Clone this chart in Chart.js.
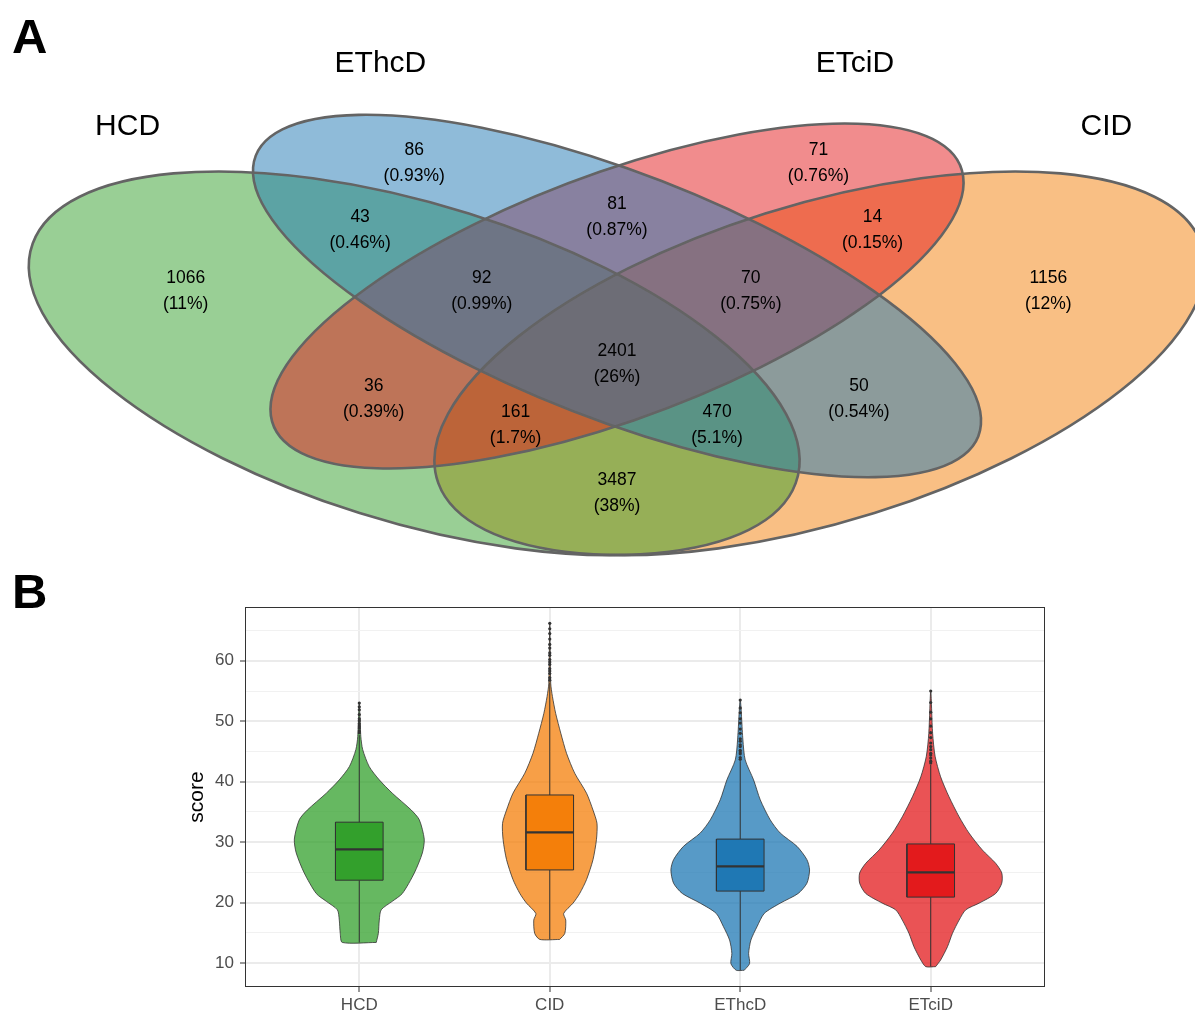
<!DOCTYPE html>
<html>
<head>
<meta charset="utf-8">
<title>Venn and score violins</title>
<script src="https://cdn.jsdelivr.net/npm/chart.js@4.4.0/dist/chart.umd.min.js"></script>
<style>
html, body { margin: 0; padding: 0; background: #fff; }
#page { position: relative; width: 1195px; height: 1012px; overflow: hidden; background: #fff;
        font-family: "Liberation Sans", Arial, sans-serif; }
.panel { position: absolute; left: 12px; font-weight: bold; font-size: 49px; line-height: 1; color: #000; }
#vennChart { position: absolute; left: 0; top: 0; }
#violinChart { position: absolute; left: 0; top: 575px; }
</style>
</head>
<body>
<div id="page">
  <canvas id="vennChart" width="1195" height="570"></canvas>
  <canvas id="violinChart" width="1195" height="437"></canvas>
  <div class="panel" style="top:12px">A</div>
  <div class="panel" style="top:567px">B</div>
</div>
<script>
// ==========================================================
// Data : Venn (panel A)
// ==========================================================

const vennSets = ["HCD", "EThcD", "ETciD", "CID"];

const vennRegions = [
    "HCD", "EThcD", "ETciD", "CID",
    "HCD+EThcD", "EThcD+ETciD", "ETciD+CID",
    "HCD+EThcD+ETciD", "EThcD+ETciD+CID", "all",
    "HCD+ETciD", "HCD+ETciD+CID", "HCD+EThcD+CID", "EThcD+CID",
    "HCD+CID"
];

const vennCounts = [1066, 86, 71, 1156, 43, 81, 14, 92, 70, 2401, 36, 161, 470, 50, 3487];

const vennShares = ["11%", "0.93%", "0.76%", "12%", "0.46%", "0.87%", "0.15%", "0.99%",
                    "0.75%", "26%", "0.39%", "1.7%", "5.1%", "0.54%", "38%"];

// ==========================================================
// Data : score violins (panel B)
// ==========================================================

const scoreCats = ["HCD", "CID", "EThcD", "ETciD"];

const yTickValues = [10, 15, 20, 25, 30, 35, 40, 45, 50, 55, 60, 65];

// violin outlines: score level and half width (in category units)
const hcdLevels = [13.4, 14.9, 17.1, 18.8, 20.2, 21.5, 24.9, 28.2, 30.5, 33.7, 35.3, 38.1, 40.3, 42.5, 45.3, 47.5, 53.0];
const hcdWidths = [0.089, 0.100, 0.105, 0.115, 0.173, 0.226, 0.289, 0.331, 0.341, 0.315, 0.273, 0.173, 0.105, 0.052, 0.018, 0.008, 0];

const cidLevels = [13.9, 14.9, 17.1, 18.2, 19.9, 21.5, 23.8, 27.1, 30.4, 33.1, 35.3, 38.1, 41.4, 44.7, 48.0, 51.3, 54.1, 56.3, 66.2];
const cidWidths = [0.052, 0.079, 0.084, 0.073, 0.122, 0.157, 0.193, 0.227, 0.245, 0.248, 0.227, 0.193, 0.131, 0.088, 0.058, 0.031, 0.014, 0.005, 0];

const ethcdLevels = [8.8, 9.9, 11.6, 13.8, 16.0, 18.2, 19.9, 21.5, 23.2, 25.4, 27.1, 29.3, 31.5, 33.7, 37.0, 40.3, 43.6, 46.9, 53.5];
const ethcdWidths = [0.021, 0.049, 0.044, 0.056, 0.088, 0.126, 0.210, 0.304, 0.350, 0.364, 0.350, 0.298, 0.210, 0.157, 0.105, 0.070, 0.026, 0.014, 0];

const etcidLevels = [9.4, 10.5, 12.7, 14.9, 17.1, 18.8, 19.9, 21.5, 23.2, 24.9, 26.5, 28.7, 31.5, 34.2, 37.5, 40.8, 44.2, 48.0, 55.0];
const etcidWidths = [0.026, 0.052, 0.088, 0.114, 0.149, 0.184, 0.254, 0.341, 0.373, 0.373, 0.341, 0.271, 0.201, 0.149, 0.096, 0.052, 0.023, 0.010, 0];

// box plots
const boxQ1      = [23.7, 25.4, 21.9, 20.9];
const boxMedian  = [28.8, 31.6, 26.0, 25.0];
const boxQ3      = [33.3, 37.8, 30.5, 29.7];
const whiskerLow  = [13.4, 13.9, 8.8, 9.4];
const whiskerHigh = [47.7, 56.4, 43.4, 42.8];

const hcdOutliers   = [48.1, 48.4, 48.9, 49.2, 49.6, 50.1, 50.4, 51.1, 51.9, 52.4, 53.0];
const cidOutliers   = [56.8, 57.2, 57.9, 58.3, 58.7, 59.4, 59.8, 60.2, 60.9, 61.3, 62.1, 62.7, 63.6, 64.5, 65.3, 66.2];
const ethcdOutliers = [43.7, 44.0, 44.6, 44.9, 45.2, 45.8, 46.1, 46.7, 47.1, 48.0, 48.7, 49.7, 50.4, 51.4, 52.2, 53.5];
const etcidOutliers = [43.1, 43.4, 43.9, 44.4, 44.7, 45.3, 45.8, 46.4, 47.3, 48.1, 49.2, 50.4, 51.5, 53.1, 55.0];

// ==========================================================
// Layout / style
// ==========================================================

const FONT = '"Liberation Sans", Arial, sans-serif';

Chart.defaults.font.family = FONT;

const setColors = {
    HCD:   "#33A02C",
    CID:   "#F47F0A",
    EThcD: "#1F78B4",
    ETciD: "#E31A1C"
};

// ellipses in the unit square, in drawing order
const vennShapes = [
    { set: "CID",   cx: 0.65, cy: 0.47, a: 0.35, b: 0.20, rot: 45 },
    { set: "HCD",   cx: 0.35, cy: 0.47, a: 0.35, b: 0.20, rot: 135 },
    { set: "ETciD", cx: 0.50, cy: 0.57, a: 0.33, b: 0.15, rot: 45 },
    { set: "EThcD", cx: 0.50, cy: 0.57, a: 0.35, b: 0.15, rot: 135 }
];

// label anchors in the same unit square
const vennLabelAnchors = [
    [0.181, 0.577], [0.350, 0.768], [0.649, 0.768], [0.819, 0.577],
    [0.310, 0.668], [0.500, 0.687], [0.689, 0.668],
    [0.400, 0.577], [0.599, 0.577], [0.500, 0.468],
    [0.320, 0.417], [0.425, 0.378], [0.574, 0.378], [0.679, 0.417],
    [0.500, 0.277]
];

const vennTitleAnchors = [[0.138, 0.821], [0.325, 0.915], [0.676, 0.915], [0.862, 0.821]];

function hexToRgba(hex, alpha){

    const n = parseInt(hex.slice(1), 16);

    return `rgba(${(n >> 16) & 255},${(n >> 8) & 255},${n & 255},${alpha})`;

}

// ==========================================================
// Panel A : Venn
// ==========================================================

const vennPlugin = {

    id: "vennShapes",

    beforeDatasetsDraw(chart){

        const { ctx, scales: { x, y } } = chart;

        const ox = x.getPixelForValue(0), oy = y.getPixelForValue(0);
        const kx = x.getPixelForValue(1) - ox, ky = y.getPixelForValue(1) - oy;

        const trace = e => {
            ctx.beginPath();
            ctx.save();
            ctx.translate(ox, oy);
            ctx.scale(kx, ky);
            ctx.ellipse(e.cx, e.cy, e.a, e.b, e.rot * Math.PI / 180, 0, Math.PI * 2);
            ctx.restore();
        };

        ctx.save();

        vennShapes.forEach(e => {
            trace(e);
            ctx.fillStyle = hexToRgba(setColors[e.set], 0.5);
            ctx.fill();
        });

        ctx.lineWidth = 2.6;
        ctx.strokeStyle = "#646464";

        vennShapes.forEach(e => {
            trace(e);
            ctx.stroke();
        });

        ctx.restore();

    },

    afterDatasetsDraw(chart){

        const ctx = chart.ctx;

        ctx.save();
        ctx.fillStyle = "#000";
        ctx.textAlign = "center";
        ctx.textBaseline = "middle";

        // region counts
        ctx.font = `17.5px ${FONT}`;

        chart.getDatasetMeta(0).data.forEach((pt, i) => {
            ctx.fillText(String(vennCounts[i]), pt.x, pt.y - 13);
            ctx.fillText(`(${vennShares[i]})`, pt.x, pt.y + 13);
        });

        // set names
        ctx.font = `30px ${FONT}`;

        chart.getDatasetMeta(1).data.forEach((pt, i) => {
            ctx.fillText(vennSets[i], pt.x, pt.y);
        });

        ctx.restore();

    }

};

new Chart(document.getElementById("vennChart"), {

    type: "scatter",

    data: {
        datasets: [
            {
                label: "regions",
                data: vennLabelAnchors.map(p => ({ x: p[0], y: p[1] })),
                pointRadius: 0
            },
            {
                label: "sets",
                data: vennTitleAnchors.map(p => ({ x: p[0], y: p[1] })),
                pointRadius: 0
            }
        ]
    },

    options: {
        responsive: false,
        animation: false,
        events: [],
        layout: { padding: 0 },
        plugins: {
            legend: { display: false },
            tooltip: { enabled: false }
        },
        scales: {
            x: { type: "linear", display: false, min: 0.04364, max: 0.92751 },
            y: { type: "linear", display: false, min: 0.16287, max: 1.00982 }
        }
    },

    plugins: [vennPlugin]

});

// ==========================================================
// Panel B : violins + boxes
// ==========================================================

function violinOutline(center, levels, widths){

    const pts = [];

    levels.forEach((v, k) => pts.push({ x: center + widths[k], y: v }));

    for (let k = levels.length - 2; k >= 0; k--) {
        pts.push({ x: center - widths[k], y: levels[k] });
    }

    pts.push({ x: center + widths[0], y: levels[0] });

    return pts;

}

const violinLevels = [hcdLevels, cidLevels, ethcdLevels, etcidLevels];
const violinWidths = [hcdWidths, cidWidths, ethcdWidths, etcidWidths];
const violinOutliers = [hcdOutliers, cidOutliers, ethcdOutliers, etcidOutliers];

const BOX_HALF = 0.125;
const INK = "#333333";

const violinDatasets = [];

scoreCats.forEach((cat, i) => {

    const c = i + 1;
    const col = setColors[cat];

    violinDatasets.push({
        label: cat + " violin",
        data: violinOutline(c, violinLevels[i], violinWidths[i]),
        showLine: true,
        fill: "shape",
        backgroundColor: hexToRgba(col, 0.75),
        borderColor: INK,
        borderWidth: 0.8,
        tension: 0.25,
        pointRadius: 0,
        order: 5
    });

    violinDatasets.push({
        label: cat + " whisker low",
        data: [{ x: c, y: whiskerLow[i] }, { x: c, y: boxQ1[i] }],
        showLine: true,
        borderColor: INK,
        borderWidth: 1,
        pointRadius: 0,
        order: 4
    });

    violinDatasets.push({
        label: cat + " whisker high",
        data: [{ x: c, y: boxQ3[i] }, { x: c, y: whiskerHigh[i] }],
        showLine: true,
        borderColor: INK,
        borderWidth: 1,
        pointRadius: 0,
        order: 4
    });

    violinDatasets.push({
        label: cat + " box",
        data: [
            { x: c - BOX_HALF, y: boxQ1[i] },
            { x: c + BOX_HALF, y: boxQ1[i] },
            { x: c + BOX_HALF, y: boxQ3[i] },
            { x: c - BOX_HALF, y: boxQ3[i] },
            { x: c - BOX_HALF, y: boxQ1[i] }
        ],
        showLine: true,
        fill: "shape",
        backgroundColor: col,
        borderColor: INK,
        borderWidth: 1,
        tension: 0,
        pointRadius: 0,
        order: 3
    });

    violinDatasets.push({
        label: cat + " median",
        data: [{ x: c - BOX_HALF, y: boxMedian[i] }, { x: c + BOX_HALF, y: boxMedian[i] }],
        showLine: true,
        borderColor: INK,
        borderWidth: 2.2,
        pointRadius: 0,
        order: 2
    });

    violinDatasets.push({
        label: cat + " outliers",
        data: violinOutliers[i].map(v => ({ x: c, y: v })),
        showLine: false,
        pointRadius: 1.6,
        pointBorderWidth: 0,
        pointBackgroundColor: INK,
        order: 1
    });

});

const framePlugin = {

    id: "panelFrame",

    afterDraw(chart){

        const { ctx, chartArea: a } = chart;

        ctx.save();
        ctx.strokeStyle = INK;
        ctx.lineWidth = 1;
        ctx.strokeRect(a.left + 0.5, a.top + 0.5, a.right - a.left - 1, a.bottom - a.top - 1);
        ctx.restore();

    }

};

const isMajor = v => v % 10 === 0;

new Chart(document.getElementById("violinChart"), {

    type: "scatter",

    data: { datasets: violinDatasets },

    options: {
        responsive: false,
        animation: false,
        events: [],
        layout: { padding: { left: 185, right: 150, top: 32, bottom: 0 } },
        plugins: {
            legend: { display: false },
            tooltip: { enabled: false }
        },
        scales: {
            x: {
                type: "linear",
                min: 0.4,
                max: 4.6,
                afterBuildTicks: s => { s.ticks = scoreCats.map((_, i) => ({ value: i + 1 })); },
                afterFit: s => { s.height = 25; },
                border: { display: false },
                grid: {
                    color: "#EBEBEB",
                    lineWidth: 2,
                    tickColor: INK,
                    tickLength: 5,
                    tickWidth: 1
                },
                ticks: {
                    padding: 3,
                    color: "#4D4D4D",
                    font: { size: 17 },
                    maxRotation: 0,
                    callback: v => scoreCats[Math.round(v) - 1]
                }
            },
            y: {
                type: "linear",
                min: 6.03,
                max: 68.9,
                afterBuildTicks: s => { s.ticks = yTickValues.map(v => ({ value: v })); },
                afterFit: s => { s.width = 60; },
                border: { display: false },
                grid: {
                    color: c => (c.tick && isMajor(c.tick.value)) ? "#EBEBEB" : "#F1F1F1",
                    lineWidth: c => (c.tick && isMajor(c.tick.value)) ? 2 : 1,
                    tickColor: c => (c.tick && isMajor(c.tick.value)) ? INK : "rgba(0,0,0,0)",
                    tickLength: 5,
                    tickWidth: 1
                },
                ticks: {
                    padding: 6,
                    color: "#4D4D4D",
                    font: { size: 17 },
                    callback: v => isMajor(v) ? String(v) : ""
                },
                title: {
                    display: true,
                    text: "score",
                    color: "#000",
                    font: { size: 21 },
                    padding: { top: 0, bottom: 0 }
                }
            }
        }
    },

    plugins: [framePlugin]

});
</script>
</body>
</html>
